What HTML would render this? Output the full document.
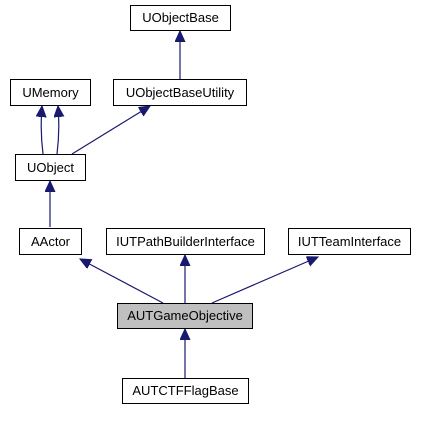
<!DOCTYPE html>
<html><head><style>
body{margin:0;background:#fff;}
svg text{font-family:"Liberation Sans",sans-serif;font-size:13px;fill:#000;}
</style></head><body>
<svg width="438" height="419" xmlns="http://www.w3.org/2000/svg">
<defs><marker id="a" markerWidth="12" markerHeight="12" refX="11" refY="5" orient="auto" markerUnits="userSpaceOnUse">
<path d="M0,0 L11,5 L0,10 z" fill="#191970" stroke="#191970"/></marker></defs>
<g stroke="#191970" stroke-width="1.2" fill="none">
<line x1="180" y1="79" x2="180" y2="31" marker-end="url(#a)"/>
<path d="M43,154 Q40,130 42,106" marker-end="url(#a)"/>
<path d="M57,154 Q60,130 58,106" marker-end="url(#a)"/>
<line x1="72" y1="154" x2="150" y2="106" marker-end="url(#a)"/>
<line x1="50" y1="227" x2="50" y2="181" marker-end="url(#a)"/>
<line x1="163" y1="303" x2="80" y2="259" marker-end="url(#a)"/>
<line x1="185" y1="303" x2="185" y2="255" marker-end="url(#a)"/>
<line x1="212" y1="303" x2="318" y2="257" marker-end="url(#a)"/>
<line x1="185" y1="378" x2="185" y2="329" marker-end="url(#a)"/>
</g>
<g stroke="#000" stroke-width="1" fill="#fff">
<rect x="130.5" y="5.5" width="100" height="25"/>
<rect x="10.5" y="79.5" width="80" height="26"/>
<rect x="113.5" y="79.5" width="133" height="26"/>
<rect x="15.5" y="154.5" width="70" height="26"/>
<rect x="19.5" y="228.5" width="62" height="26"/>
<rect x="106.5" y="228.5" width="158" height="26"/>
<rect x="288.5" y="228.5" width="122" height="26"/>
<rect x="117.5" y="303.5" width="135" height="25" fill="#bfbfbf"/>
<rect x="122.5" y="378.5" width="126" height="25"/>
</g>
<g text-anchor="middle">
<text x="180.5" y="22">UObjectBase</text>
<text x="50.5" y="97">UMemory</text>
<text x="180" y="97">UObjectBaseUtility</text>
<text x="50.5" y="172">UObject</text>
<text x="50.5" y="246">AActor</text>
<text x="185.5" y="246">IUTPathBuilderInterface</text>
<text x="349.5" y="246">IUTTeamInterface</text>
<text x="185" y="320">AUTGameObjective</text>
<text x="185.5" y="395">AUTCTFFlagBase</text>
</g>
</svg>
</body></html>
